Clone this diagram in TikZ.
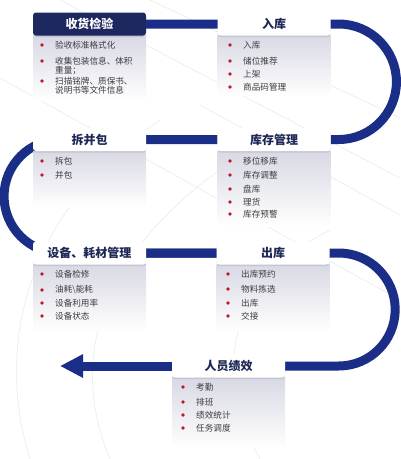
\documentclass[tikz,border=0pt]{standalone}
\usepackage{fontspec}
\setmainfont{Noto Sans CJK SC}
\usetikzlibrary{positioning,shadows,arrows.meta,backgrounds}
\definecolor{bandblue}{RGB}{27,46,135}
\definecolor{headnavy}{RGB}{28,40,95}
\definecolor{titleblue}{RGB}{30,40,85}
\definecolor{dotred}{RGB}{190,25,40}
\definecolor{bodygray}{RGB}{216,217,228}
\definecolor{itemgray}{RGB}{60,60,64}
\tikzset{head/.style={rectangle,rounded corners=3pt,fill=white,minimum width=113pt,minimum height=23pt,inner sep=0pt,font=\fontsize{12}{14}\selectfont\bfseries,text=titleblue,drop shadow={shadow xshift=0pt,shadow yshift=-1.5pt,opacity=.22}}}
\tikzset{headdark/.style={head,fill=headnavy,text=white}}
\tikzset{body/.style={rectangle,anchor=north,minimum width=113pt,inner sep=0pt,top color=bodygray,bottom color=white}}
\tikzset{dot/.style={circle,fill=dotred,inner sep=0pt,minimum size=3.6pt}}
\tikzset{txt/.style={anchor=west,inner sep=0pt,font=\fontsize{8.6}{10}\selectfont,text=itemgray}}
\tikzset{itm/.style={txt,label={[dot,xshift=-11pt]left:{}}}}
\tikzset{band/.style={draw=bandblue,line width=9pt}}

\begin{document}
\begin{tikzpicture}[x=1pt,y=-1pt]
    \useasboundingbox (0,0) rectangle (400,459);

    \node[headdark] (shjy) at (89.5,24) {收货检验};
    \node[head] (ruku) at (274,24) {入库};
    \node[head] (cbb) at (89.5,139.5) {拆并包};
    \node[head] (kcgl) at (274,139.5) {库存管理};
    \node[head] (sbgl) at (89.5,253) {设备、耗材管理};
    \node[head] (chuku) at (273,253) {出库};
    \node[head] (rypx) at (228.5,366) {人员绩效};
    \coordinate (tip) at (60,366);

    \begin{pgfonlayer}{background}
    \fill[white] (0,0) rectangle (400,459);
    % background lines
    \draw[gray!18,line width=0.5pt] (60,0) -- (400,178);
    \draw[gray!18,line width=0.5pt] (0,78) -- (400,300);
    \draw[gray!18,line width=0.5pt] (150,0) -- (400,118);
    \draw[gray!18,line width=0.5pt] (200,105) -- (400,215);
    \draw[gray!18,line width=0.5pt] (30,459) .. controls (-10,330) and (40,200) .. (160,120);
    \draw[gray!18,line width=0.5pt] (110,459) .. controls (60,340) and (120,230) .. (250,150);
    \draw[gray!18,line width=0.5pt] (260,459) .. controls (200,350) and (250,270) .. (330,230);

    % the band
    \draw[band] (shjy.east) -- ([xshift=8pt]ruku.east) arc[start angle=-90,end angle=90,radius=57.75] -- (kcgl.east);
    \draw[band] (kcgl.west) -- ([xshift=28pt]cbb.west) arc[start angle=-90,end angle=-270,radius=56.75] -- (chuku.west);
    \draw[band] (sbgl.east) -- ([xshift=9pt]chuku.east) arc[start angle=-90,end angle=90,radius=56.5] -- (rypx.east);
    \draw[band,-{Triangle[length=23pt,width=22pt]}] (rypx.west) -- (tip);

    % bodies
    \node[body,minimum height=65pt] (shjyb) at (shjy.south) {};
    \node[body,minimum height=60pt] (rukub) at (ruku.south) {};
    \node[body,minimum height=55pt] (cbbb) at (cbb.south) {};
    \node[body,minimum height=75pt] (kcglb) at (kcgl.south) {};
    \node[body,minimum height=66pt] (sbglb) at (sbgl.south) {};
    \node[body,minimum height=66pt] (chukub) at (chuku.south) {};
    \node[body,minimum height=70pt] (rypxb) at (rypx.south) {};
    \end{pgfonlayer}

    \node[itm] (shjy1) at (55,45) {验收标准格式化};
    \node[itm] (shjy2) at (55,61) {收集包装信息、体积};
    \node[txt] (shjy2b) at (55,70.5) {重量；};
    \node[itm] (shjy3) at (55,81) {扫描铭牌、质保书、};
    \node[txt] (shjy3b) at (55,90.5) {说明书等文件信息};

    \node[itm] (ruku1) at (243,45) {入库};
    \node[itm] (ruku2) at (243,61) {储位推荐};
    \node[itm] (ruku3) at (243,74) {上架};
    \node[itm] (ruku4) at (243,87) {商品码管理};

    \node[itm] (cbb1) at (55,161) {拆包};
    \node[itm] (cbb2) at (55,175) {并包};

    \node[itm] (kcgl1) at (243,161) {移位移库};
    \node[itm] (kcgl2) at (243,175) {库存调整};
    \node[itm] (kcgl3) at (243,189) {盘库};
    \node[itm] (kcgl4) at (243,202) {理货};
    \node[itm] (kcgl5) at (243,214) {库存预警};

    \node[itm] (sbgl1) at (55,274) {设备检修};
    \node[itm] (sbgl2) at (55,290) {油耗\textbackslash 能耗};
    \node[itm] (sbgl3) at (55,303) {设备利用率};
    \node[itm] (sbgl4) at (55,316) {设备状态};

    \node[itm] (chuku1) at (241,274) {出库预约};
    \node[itm] (chuku2) at (241,289) {物料拣选};
    \node[itm] (chuku3) at (241,303) {出库};
    \node[itm] (chuku4) at (241,316) {交接};

    \node[itm] (rypx1) at (196,387) {考勤};
    \node[itm] (rypx2) at (196,402) {排班};
    \node[itm] (rypx3) at (196,415) {绩效统计};
    \node[itm] (rypx4) at (196,428) {任务调度};
\end{tikzpicture}
\end{document}
